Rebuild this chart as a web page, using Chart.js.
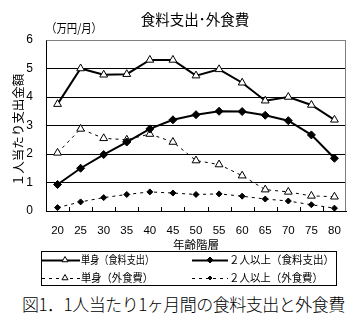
<!DOCTYPE html>
<html lang="ja">
<head>
<meta charset="utf-8">
<script src="https://cdn.jsdelivr.net/npm/chart.js@4.4.1/dist/chart.umd.min.js"></script>
<style>
  body { margin: 0; background: #fff; }
  #wrap { position: relative; width: 364px; height: 325px; overflow: hidden; }
  #chart { position: absolute; left: 0; top: 0; }
  #caption {
    position: absolute; left: 22px; top: 294px; width: 335px;
    font: 300 17px "Noto Sans CJK JP", sans-serif; color: #000; white-space: nowrap;
    letter-spacing: -0.5px; line-height: 20px;
  }
</style>
</head>
<body>
<div id="wrap">
  <canvas id="chart" width="364" height="290"></canvas>
  <div id="caption">図1．1人当たり1ヶ月間の食料支出と外食費</div>
</div>
<script>
// data
const ages = ["20", "25", "30", "35", "40", "45", "50", "55", "60", "65", "70", "75", "80"];
const singleFood   = [3.75, 5.0, 4.78, 4.8, 5.3, 5.3, 4.75, 4.97, 4.5, 3.87, 4.0, 3.72, 3.2];
const multiFood    = [0.93, 1.5, 1.98, 2.42, 2.88, 3.2, 3.38, 3.5, 3.49, 3.36, 3.17, 2.67, 1.85];
const singleEatOut = [2.04, 2.88, 2.55, 2.5, 2.7, 2.42, 1.77, 1.63, 1.24, 0.75, 0.67, 0.53, 0.5];
const multiEatOut  = [0.12, 0.32, 0.47, 0.58, 0.67, 0.63, 0.58, 0.6, 0.52, 0.42, 0.35, 0.22, 0.1];
const seriesNames = ["単身（食料支出）", "２人以上（食料支出）", "単身（外食費）", "２人以上（外食費）"];

const chartTitle = "食料支出･外食費";
const unitLabel = "（万円/月）";
const yTitle = "１人当たり支出金額";
const xTitle = "年齢階層";

const JP = '"Noto Sans CJK JP", sans-serif';

// legend slots: [lineStart, lineEnd, marker, textX, textWidth, y]
const legendSlots = [
  [42, 80, 65, 81, 73, 260],
  [192, 228, 210, 229, 105, 260],
  [42, 80, 65, 81, 72, 278],
  [192, 228, 210, 229, 94, 278]
];

const decorPlugin = {
  id: "decor",
  beforeDatasetsDraw(chart) {
    const { ctx, chartArea: a, scales } = chart;
    ctx.save();
    // gray frame on top/right
    ctx.strokeStyle = "#808080";
    ctx.lineWidth = 1;
    ctx.beginPath();
    ctx.moveTo(Math.round(a.left) + 0.5, Math.round(a.top) + 0.5);
    ctx.lineTo(Math.round(a.right) - 0.5, Math.round(a.top) + 0.5);
    ctx.lineTo(Math.round(a.right) - 0.5, Math.round(a.bottom));
    ctx.stroke();
    // small inner ticks on the category boundaries
    const x = scales.x;
    ctx.strokeStyle = "#000";
    ctx.beginPath();
    for (let i = 1; i < ages.length; i++) {
      const px = Math.round((x.getPixelForTick(i - 1) + x.getPixelForTick(i)) / 2) + 0.5;
      ctx.moveTo(px, a.bottom);
      ctx.lineTo(px, a.bottom - 4);
    }
    ctx.stroke();
    ctx.restore();
  },
  afterDraw(chart) {
    const { ctx } = chart;
    ctx.save();
    ctx.fillStyle = "#000";
    ctx.textBaseline = "middle";

    ctx.font = "14.5px " + JP;
    ctx.textAlign = "center";
    ctx.fillText(chartTitle, 195, 19);

    ctx.font = "12px " + JP;
    ctx.textAlign = "left";
    ctx.fillText(unitLabel, 46, 28, 56);

    ctx.font = "11.5px " + JP;
    ctx.textAlign = "center";
    ctx.fillText(xTitle, 196, 245);

    ctx.save();
    ctx.translate(18, 130);
    ctx.rotate(-Math.PI / 2);
    ctx.font = "12.5px " + JP;
    ctx.fillText(yTitle, 0, 0, 114);
    ctx.restore();

    // legend box
    ctx.strokeStyle = "#000";
    ctx.lineWidth = 1;
    ctx.strokeRect(41.5, 251.5, 295, 34);

    chart.data.datasets.forEach((ds, i) => {
      const [l0, l1, m, tx, tw, y] = legendSlots[i];
      ctx.save();
      ctx.strokeStyle = ds.borderColor;
      ctx.lineWidth = ds.borderWidth;
      ctx.setLineDash(ds.borderDash || []);
      ctx.beginPath();
      ctx.moveTo(l0, y + 0.5);
      ctx.lineTo(l1, y + 0.5);
      ctx.stroke();
      ctx.restore();
      ctx.save();
      ctx.fillStyle = ds.pointBackgroundColor;
      ctx.strokeStyle = ds.pointBorderColor;
      ctx.lineWidth = 1;
      Chart.helpers.drawPoint(ctx, {
        pointStyle: ds.pointStyle,
        radius: ds.pointRadius - 1,
        rotation: 0,
        borderWidth: 1
      }, m, y);
      ctx.restore();
      ctx.font = "11px " + JP;
      ctx.textAlign = "left";
      ctx.fillStyle = "#000";
      ctx.fillText(ds.label, tx, y, tw);
    });
    ctx.restore();
  }
};

new Chart(document.getElementById("chart"), {
  type: "line",
  data: {
    labels: ages,
    datasets: [
      {
        label: seriesNames[0], data: singleFood,
        borderColor: "#000", borderWidth: 2,
        pointStyle: "triangle", pointRadius: 4.5,
        pointBackgroundColor: "#fff", pointBorderColor: "#000", pointBorderWidth: 1
      },
      {
        label: seriesNames[1], data: multiFood,
        borderColor: "#000", borderWidth: 2,
        pointStyle: "rectRot", pointRadius: 4,
        pointBackgroundColor: "#000", pointBorderColor: "#000", pointBorderWidth: 1
      },
      {
        label: seriesNames[2], data: singleEatOut,
        borderColor: "#000", borderWidth: 1, borderDash: [3, 4],
        pointStyle: "triangle", pointRadius: 4.5,
        pointBackgroundColor: "#fff", pointBorderColor: "#000", pointBorderWidth: 1
      },
      {
        label: seriesNames[3], data: multiEatOut,
        borderColor: "#000", borderWidth: 1, borderDash: [3, 4],
        pointStyle: "rectRot", pointRadius: 3,
        pointBackgroundColor: "#000", pointBorderColor: "#000", pointBorderWidth: 1
      }
    ]
  },
  options: {
    responsive: false,
    devicePixelRatio: 1,
    animation: false,
    layout: { padding: { top: 40, right: 18, bottom: 0, left: 0 } },
    plugins: {
      legend: { display: false },
      title: { display: false },
      tooltip: { enabled: false }
    },
    scales: {
      x: {
        type: "category",
        offset: true,
        grid: { display: false },
        border: { display: true, color: "#000", width: 1 },
        ticks: { color: "#000", font: { family: "Liberation Sans", size: 11.5 }, padding: 5, maxRotation: 0 },
        afterFit(scale) { scale.height = 79; }
      },
      y: {
        min: 0, max: 6,
        grid: {
          color: ctx => (ctx.tick && ctx.tick.value === 6 ? "#808080" : "#000"),
          drawTicks: false, lineWidth: 1
        },
        border: { display: true, color: "#000", width: 1 },
        ticks: { stepSize: 1, color: "#000", font: { family: "Liberation Sans", size: 12 }, padding: 13 },
        afterFit(scale) { scale.width = 46; }
      }
    }
  },
  plugins: [decorPlugin]
});
</script>
</body>
</html>
